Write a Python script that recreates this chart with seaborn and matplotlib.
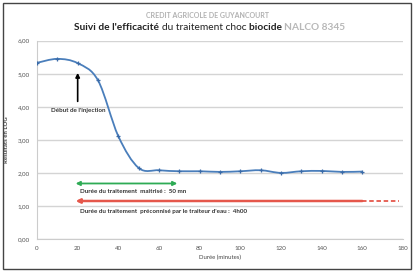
import matplotlib
matplotlib.use("Agg")
import matplotlib.pyplot as plt
from matplotlib.patches import Rectangle, PathPatch
from matplotlib.path import Path
from matplotlib.ticker import FuncFormatter, FixedLocator
import seaborn as sns
import pandas as pd

# ---- data ----
minutes = [0, 10, 20, 30, 40, 50, 60, 70, 80, 90, 100, 110, 120, 130, 140, 150, 160]
log_values = [5.33, 5.45, 5.32, 4.80, 3.11, 2.15, 2.08, 2.05, 2.05, 2.03, 2.05, 2.08,
              2.00, 2.05, 2.06, 2.03, 2.04]
x_ticks = [0, 20, 40, 60, 80, 100, 120, 140, 160, 180]
y_ticks = [0, 1, 2, 3, 4, 5, 6]

title_super = "CREDIT AGRICOLE DE GUYANCOURT"
title_parts = [("Suivi de l'efficacité ", "bold", "#222222"),
               ("du traitement choc ", "normal", "#222222"),
               ("biocide ", "bold", "#222222"),
               ("NALCO 8345", "bold", "#b8b8b8")]
injection_label = "Début de l'injection"
green_label = "Durée du traitement  maitrisé :  50 mn"
red_label = "Durée du traitement  préconnisé par le traiteur d'eau :  4h00"
x_label = "Durée (minutes)"
y_label = "Résultats en LOG"

df = pd.DataFrame({"minutes": minutes, "log": log_values})

sns.set_theme(style="white")
plt.rcParams['font.family'] = ['Lato', 'DejaVu Sans']

W, H = 415, 272
fig = plt.figure(figsize=(W / 100, H / 100), dpi=100)
fig.patch.set_facecolor("white")
fig.patches.append(Rectangle((3 / W, 3 / H), 1 - 7 / W, 1 - 6 / H, transform=fig.transFigure,
                             fill=False, edgecolor="#444444", lw=1.0))

ax = fig.add_axes([37 / W, 1 - 239 / H, (403 - 37) / W, (239 - 40.7) / H])

# smoothed line (Excel-style Bezier smoothing through the data points)
line_color = "#4A7EBB"
verts = [(minutes[0], log_values[0])]
codes = [Path.MOVETO]
n = len(minutes)
for i in range(n - 1):
    p0 = (minutes[max(i - 1, 0)], log_values[max(i - 1, 0)])
    p1 = (minutes[i], log_values[i])
    p2 = (minutes[i + 1], log_values[i + 1])
    p3 = (minutes[min(i + 2, n - 1)], log_values[min(i + 2, n - 1)])
    c1 = (p1[0] + (p2[0] - p0[0]) / 6, p1[1] + (p2[1] - p0[1]) / 6)
    c2 = (p2[0] - (p3[0] - p1[0]) / 6, p2[1] - (p3[1] - p1[1]) / 6)
    verts += [c1, c2, p2]
    codes += [Path.CURVE4] * 3
ax.add_patch(PathPatch(Path(verts, codes), facecolor="none", edgecolor=line_color, lw=1.3,
                       zorder=3))

sns.lineplot(data=df, x="minutes", y="log", ax=ax, color=line_color, lw=0, linestyle="",
             marker="+", markersize=3.5, markeredgewidth=0.9, markeredgecolor="#3B6BA8",
             zorder=4)

ax.set_xlim(0, 180)
ax.set_ylim(0, 6)
ax.xaxis.set_major_locator(FixedLocator(x_ticks))
ax.yaxis.set_major_locator(FixedLocator(y_ticks))
ax.yaxis.set_major_formatter(FuncFormatter(lambda v, p: f"{v:.2f}".replace(".", ",")))
ax.xaxis.set_major_formatter(FuncFormatter(lambda v, p: f"{int(v)}"))
ax.tick_params(axis="both", length=0, labelsize=4.5, colors="#555555", pad=5)
ax.grid(axis="y", color="#d4d4d4", lw=1.0)
ax.grid(axis="x", visible=False)
for s in ["top", "right"]:
    ax.spines[s].set_visible(False)
for s in ["left", "bottom"]:
    ax.spines[s].set_color("#cccccc")
    ax.spines[s].set_linewidth(0.8)
ax.set_axisbelow(True)
ax.set_xlabel(x_label, fontsize=4.3, color="#444444", labelpad=3)
ax.set_ylabel(y_label, fontsize=4.3, color="#444444", fontweight="bold", labelpad=6)

# annotations
ax.annotate("", xy=(20, 5.11), xytext=(20, 4.08),
            arrowprops=dict(arrowstyle="-|>", color="black", lw=1.2, mutation_scale=6))
ax.text(20.5, 3.9, injection_label, ha="center", va="center", fontsize=4.5,
        fontweight="bold", color="#333333")

ax.annotate("", xy=(19, 1.68), xytext=(69, 1.68),
            arrowprops=dict(arrowstyle="<|-|>", color="#2EAB55", lw=1.3, mutation_scale=6,
                            shrinkA=0, shrinkB=0))
ax.text(21, 1.45, green_label, ha="left", va="center", fontsize=4.5,
        fontweight="bold", color="#333333")

ax.annotate("", xy=(19, 1.15), xytext=(160, 1.15),
            arrowprops=dict(arrowstyle="-|>", color="#E5574B", lw=1.8, mutation_scale=6,
                            shrinkA=0, shrinkB=0))
ax.plot([160, 178], [1.15, 1.15], color="#E5574B", lw=1.3, ls=(0, (2.5, 1.5)))
ax.text(21, 0.84, red_label, ha="left", va="center", fontsize=4.5,
        fontweight="bold", color="#333333")

# titles
fig.text(0.5, 1 - 15 / H, title_super, ha="center", va="center", fontsize=5,
         color="#b0b0b0", fontweight="bold")
renderer = fig.canvas.get_renderer()
fs = 7.3
widths = []
texts = []
for s, w, c in title_parts:
    t = fig.text(0, 1 - 27 / H, s, fontsize=fs, fontweight=w, color=c, ha="left", va="center")
    texts.append(t)
    widths.append(t.get_window_extent(renderer).width)
total = sum(widths)
x0 = (210 - total / 2)
for t, w in zip(texts, widths):
    t.set_x(x0 / W)
    x0 += w

fig.savefig("out.png", dpi=100, facecolor="white")
